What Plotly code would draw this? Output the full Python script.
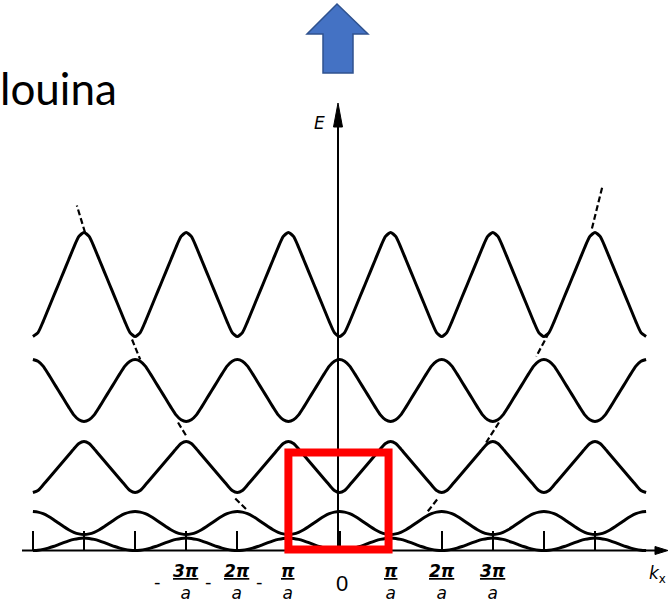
import plotly.graph_objects as go

# ---------------- data ----------------
# k in units of pi/a, E in arbitrary units (E=0 on the k axis)
k_min, k_max = -6, 6
t_half = [0.0, 0.1, 0.2, 0.3, 0.4, 0.5, 0.6, 0.7, 0.8, 0.9, 1.0]   # fraction of half zone, from even multiple to zone edge
band1 = [0, 0.3, 1.1, 2.4, 4.0, 5.9, 7.8, 9.6, 11.1, 12.1, 12.5]
band2 = [39, 38.4, 36.8, 34.3, 31.1, 27.5, 23.9, 20.7, 18.2, 16.6, 16]
band3 = [58, 60, 65.5, 71.5, 77.5, 83.5, 89.5, 95.5, 101.5, 107, 109]
band4 = [191, 189.3, 184.4, 176.6, 168.3, 160, 151.7, 143.4, 135.6, 130.7, 129]
band5 = [214, 217.9, 228.9, 241.3, 253.7, 266, 278.4, 290.8, 303.2, 314.1, 318]
bands = [band1, band2, band3, band4, band5]

# dashed pieces of the free-electron parabola
dash_k = [[-4.98, -5.14], [-4.06, -3.90], [-3.16, -2.98], [-2.04, -1.82],
          [4.94, 5.14], [4.10, 3.85], [3.12, 2.87], [1.91, 1.71]]
dash_E = [[318, 345], [211, 191], [128, 113], [52, 41],
          [322, 363], [218, 194], [128, 108], [51, 38]]

tick_k = [-6, -5, -4, -3, -2, -1, 0, 1, 2, 3, 4, 5]
label_k = [-3, -2, -1, 0, 1, 2, 3]
label_sign = ["-", "-", "-", "", "", "", ""]
label_num = ["3π", "2π", "π", "0", "π", "2π", "3π"]
label_den = ["a", "a", "a", "", "a", "a", "a"]

# ---------------- geometry ----------------
W, H = 672, 607
X0, KPX = 339.5, 51.1      # pixel of k=0, pixels per pi/a
Y0 = 550.5                 # pixel of E=0


def P(x, y):
    return x / W, 1 - y / H


def path(pts):
    s = ""
    for i, (x, y) in enumerate(pts):
        px, py = P(x, y)
        s += ("M" if i == 0 else "L") + f"{px:.5f},{py:.5f} "
    return s + "Z"


def tile(half):
    ks, es = [], []
    for n in range(k_min, k_max):
        for j, t in enumerate(t_half):
            if n > k_min and j == 0:
                continue
            ks.append(n + t)
            es.append(half[j] if n % 2 == 0 else half[len(half) - 1 - j])
    return ks, es


fig = go.Figure()
for b in bands:
    ks, es = tile(b)
    fig.add_trace(go.Scatter(x=ks, y=es, mode="lines",
                             line=dict(color="black", width=3, shape="spline", smoothing=0.6),
                             hoverinfo="skip", showlegend=False))
for dk, de in zip(dash_k, dash_E):
    fig.add_trace(go.Scatter(x=dk, y=de, mode="lines",
                             line=dict(color="black", width=2.2, dash="6px,3px"),
                             hoverinfo="skip", showlegend=False))

shapes = []
# k axis
x0p, y0p = P(22, Y0)
x1p, _ = P(658, Y0)
shapes.append(dict(type="line", xref="paper", yref="paper", x0=x0p, x1=x1p, y0=y0p, y1=y0p,
                   line=dict(color="black", width=2)))
shapes.append(dict(type="path", xref="paper", yref="paper",
                   path=path([(668, Y0), (655, Y0 - 4), (655, Y0 + 4)]),
                   fillcolor="black", line=dict(color="black", width=1)))
# E axis
ex, ey0 = P(338, Y0)
_, ey1 = P(338, 122)
shapes.append(dict(type="line", xref="paper", yref="paper", x0=ex, x1=ex, y0=ey0, y1=ey1,
                   line=dict(color="black", width=2)))
shapes.append(dict(type="path", xref="paper", yref="paper",
                   path=path([(338, 103), (333.5, 127), (342.5, 127)]),
                   fillcolor="black", line=dict(color="black", width=1)))
# first Brillouin zone box
shapes.append(dict(type="rect", xref="x", yref="y", x0=-1.0, x1=0.96, y0=1, y1=98,
                   line=dict(color="#FF0000", width=8)))
# blue block arrow
shapes.append(dict(type="path", xref="paper", yref="paper",
                   path=path([(337, 4), (368, 34), (353, 34), (353, 73), (323, 73), (323, 34), (307, 34)]),
                   fillcolor="#4472C4", line=dict(color="#2F528F", width=1.5)))

ann = []
for k, s, n, d in zip(label_k, label_sign, label_num, label_den):
    if d:
        ann.append(dict(x=k, y=-31, xref="x", yref="y", showarrow=False,
                        text=f"<u><b><i>{n}</i></b></u><br><i>{d}</i>",
                        font=dict(family="DejaVu Sans", size=17, color="black"),
                        xanchor="center", yanchor="middle"))
    else:
        ann.append(dict(x=k, y=-32.5, xref="x", yref="y", showarrow=False, text=n,
                        xshift=2,
                        font=dict(family="Liberation Sans Narrow, Liberation Sans", size=22, color="black"),
                        xanchor="center", yanchor="middle"))
    if s:
        ann.append(dict(x=k, y=-31, xref="x", yref="y", showarrow=False, text="-",
                        xshift=-29,
                        font=dict(family="DejaVu Sans", size=18, color="black"),
                        xanchor="center", yanchor="middle"))

ann.append(dict(x=6.23, y=-24, xref="x", yref="y", showarrow=False,
                text="<i>k</i><sub>x</sub>",
                font=dict(family="DejaVu Sans", size=17, color="black")))
ann.append(dict(x=-0.40, y=428, xref="x", yref="y", showarrow=False,
                text="<i>E</i>",
                font=dict(family="DejaVu Sans", size=17, color="black")))
lx, ly = P(-2, 88)
ann.append(dict(x=lx, y=ly, xref="paper", yref="paper", showarrow=False, text="louina",
                xanchor="left", yanchor="middle",
                font=dict(family="Lato", size=44, color="black")))

fig.update_layout(
    width=W, height=H, margin=dict(l=0, r=0, t=0, b=0),
    paper_bgcolor="white", plot_bgcolor="white",
    shapes=shapes, annotations=ann, showlegend=False,
    xaxis=dict(range=[(0 - X0) / KPX, (W - X0) / KPX], showgrid=False, zeroline=False,
               showticklabels=False, showline=False, ticks="inside", ticklen=20, tickwidth=2,
               tickcolor="black", tickmode="array", tickvals=tick_k,
               anchor="free", position=1 - Y0 / H),
    yaxis=dict(range=[Y0 - H, Y0], visible=False),
)
fig.write_html("out.html", config={"displayModeBar": False},
               post_script="document.body.style.margin='0';document.body.style.overflow='hidden';")
